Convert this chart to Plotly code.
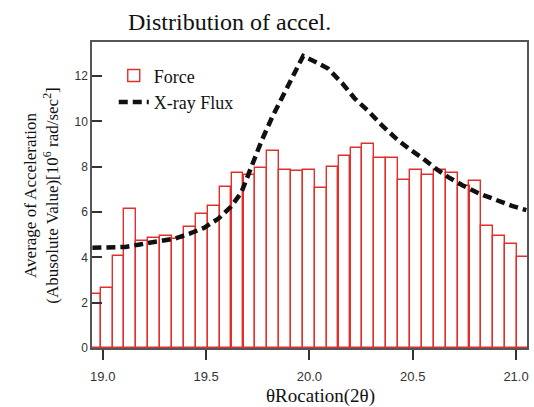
import plotly.graph_objects as go

# Bar centers (2θ) and Force values
bin_centers = [18.961, 19.019, 19.076, 19.134, 19.191, 19.249, 19.307, 19.364, 19.422,
               19.479, 19.537, 19.594, 19.652, 19.710, 19.767, 19.825, 19.882, 19.940,
               19.997, 20.055, 20.112, 20.170, 20.228, 20.285, 20.343, 20.400, 20.458,
               20.515, 20.573, 20.630, 20.688, 20.746, 20.803, 20.861, 20.918, 20.976,
               21.033]
force = [2.37, 2.63, 4.05, 6.14, 4.70, 4.85, 4.95, 4.80, 5.35, 5.89, 6.27, 7.11,
         7.70, 7.65, 7.95, 8.70, 7.84, 7.80, 7.84, 7.04, 7.99, 8.46, 8.83, 9.00,
         8.39, 8.39, 7.40, 7.84, 7.65, 7.84, 7.70, 7.15, 7.36, 5.39, 4.94, 4.57,
         4.02]

# X-ray flux curve
flux_x = [18.95, 19.11, 19.18, 19.28, 19.35, 19.42, 19.49, 19.56, 19.62, 19.67,
          19.72, 19.77, 19.82, 19.87, 19.92, 19.97, 20.03, 20.09, 20.16, 20.22,
          20.29, 20.35, 20.42, 20.48, 20.55, 20.61, 20.67, 20.74, 20.82, 20.90,
          20.98, 21.05]
flux_y = [4.42, 4.46, 4.57, 4.72, 4.83, 5.05, 5.30, 5.71, 6.23, 6.85,
          8.07, 9.17, 10.19, 11.08, 12.03, 12.88, 12.62, 12.33, 11.67, 11.00,
          10.41, 9.83, 9.24, 8.80, 8.36, 7.92, 7.55, 7.18, 6.82, 6.52,
          6.27, 6.08]

x_ticks = [19.0, 19.5, 20.0, 20.5, 21.0]
y_ticks = [0, 2, 4, 6, 8, 10, 12]

serif = "Liberation Serif, Times New Roman, serif"
sans = "Liberation Sans, Arial, sans-serif"

fig = go.Figure()
fig.add_trace(go.Bar(
    x=bin_centers, y=force, name="Force",
    width=0.05756,
    marker=dict(color="rgba(255,255,255,0)", line=dict(color="#e0302c", width=1.4)),
))
fig.add_trace(go.Scatter(
    x=flux_x, y=flux_y, name="X-ray Flux", mode="lines",
    line=dict(color="#111111", width=4.5, dash="9px,5px"),
))

fig.update_layout(
    width=534, height=407,
    margin=dict(l=92, r=5, t=42, b=59),
    paper_bgcolor="white", plot_bgcolor="white",
    bargap=0,
    showlegend=True,
    title=dict(text="Distribution of accel.", x=128 / 534, xanchor="left",
               xref="container", y=1 - 22 / 407, yanchor="middle", yref="container",
               font=dict(family=serif, size=24, color="#111")),
    legend=dict(x=0.05, y=0.95, xanchor="left", yanchor="top",
                bgcolor="rgba(0,0,0,0)", font=dict(family=serif, size=18, color="#111"),
                tracegroupgap=0, itemwidth=30),
    xaxis=dict(range=[18.948, 21.053], tickvals=x_ticks, ticktext=[f"{v:.1f}" for v in x_ticks],
               ticks="outside", ticklen=10, tickwidth=1.5, tickcolor="#333",
               ticklabelstandoff=6,
               showline=True, linecolor="#555", linewidth=1.5, mirror=True,
               showgrid=False, zeroline=False,
               tickfont=dict(family=sans, size=13, color="#333")),
    yaxis=dict(range=[0, 13.5], tickvals=y_ticks,
               ticks="inside", ticklen=10, tickwidth=1.5, tickcolor="#333",
               showline=True, linecolor="#555", linewidth=1.5, mirror=True,
               showgrid=False, zeroline=False,
               tickfont=dict(family=sans, size=12, color="#333")),
    annotations=[
        dict(text="θRocation(2θ)", xref="paper", yref="paper", x=0.525, y=-0.158,
             xanchor="center", yanchor="middle", showarrow=False,
             font=dict(family=serif, size=19, color="#111")),
        dict(text="Average of Acceleration<br>(Abusolute Value)[10<sup>6</sup> rad/sec<sup>2</sup>]",
             xref="paper", yref="paper", x=(41 - 92.5) / 437, y=0.5,
             xanchor="center", yanchor="middle", textangle=-90, showarrow=False,
             font=dict(family=serif, size=17, color="#111")),
    ],
)

fig.write_html("out.html", config={"displayModeBar": False},
               post_script="document.body.style.margin='0px';")
